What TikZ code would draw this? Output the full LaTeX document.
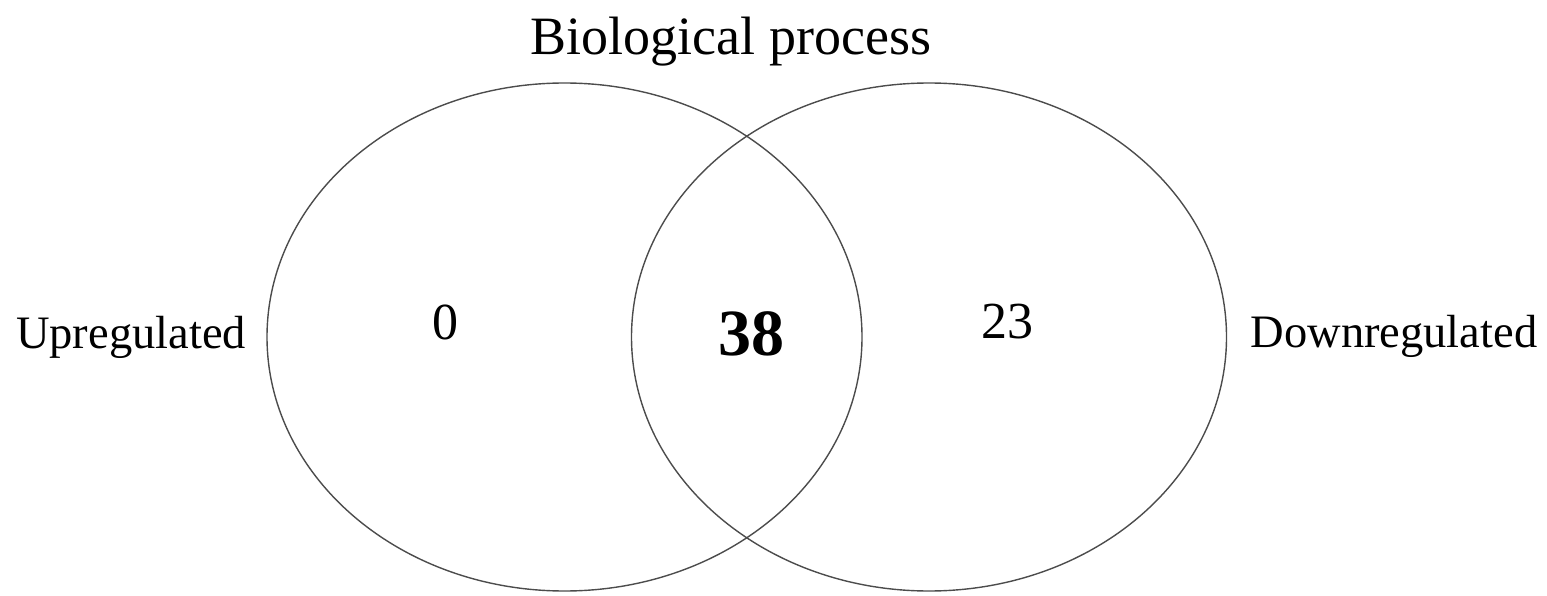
\documentclass[tikz,border=0pt]{standalone}
\usepackage{fontspec}
\setmainfont{Liberation Serif}
\usepackage{tikz}
\usetikzlibrary{shapes.geometric}
\tikzset{
    venn/.style={ellipse,draw=black!70,line width=1.4pt,inner sep=0pt,
      minimum width=595pt,minimum height=508pt},
    setlabel/.style={anchor=base,font=\fontsize{46.5}{50}\selectfont},
    count/.style={font=\fontsize{52}{56}\selectfont}
}
\begin{document}
\begin{tikzpicture}[x=1pt,y=-1pt]
    \useasboundingbox (0,0) rectangle (1547,596);
    % the two sets
    \node[venn] (upset) at (564.5,337) {};
    \node[venn] (downset) at (929,337) {};
    %
    \node[anchor=base,font=\fontsize{54}{60}\selectfont] (title) at (731,55) {Biological process};
    \node[setlabel] (uplabel) at (131,348) {Upregulated};
    \node[setlabel] (downlabel) at (1394,347) {Downregulated};
    %
    \node[count] (onlyup) at (445,322) {0};
    \node[count,font=\fontsize{66}{70}\selectfont\bfseries] (both) at (751,334) {38};
    \node[count] (onlydown) at (1007,322) {23};
\end{tikzpicture}
\end{document}
